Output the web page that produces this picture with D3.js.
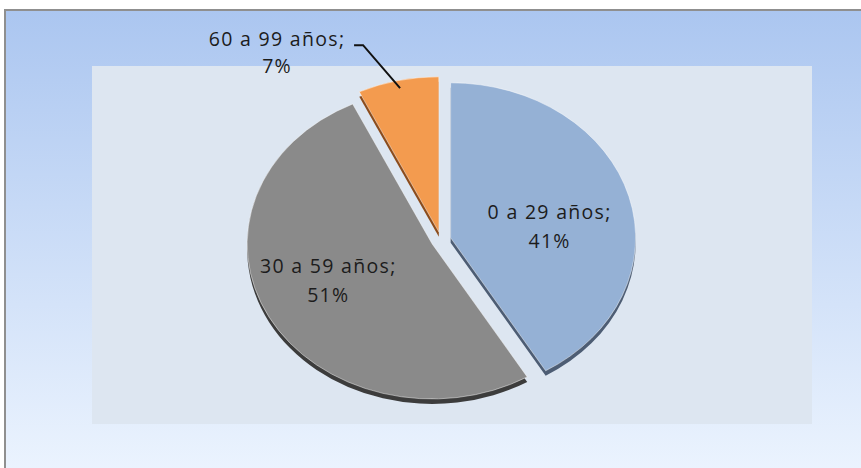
<!DOCTYPE html>
<html>
<head>
<meta charset="utf-8">
<script src="https://cdn.jsdelivr.net/npm/d3@7"></script>
<style>
  html, body { margin: 0; padding: 0; background: #fff; }
  svg { display: block; }
  .pie-label { font-family: "Open Sans", sans-serif; font-size: 19.5px; fill: #1c1c1c; letter-spacing: 1.3px; }
</style>
</head>
<body>
<div id="chart"></div>
<script>
// data
const categories = ["0 a 29 años", "30 a 59 años", "60 a 99 años"];
const values = [41, 51, 7];
const colors = ["#95b1d5", "#8a8a8a", "#f39b4f"];
const sideColors = ["#4d5d74", "#3c3c3c", "#8c4c1c"];

const width = 861, height = 468;
const plot = {x: 92, y: 66, w: 720, h: 358};
const cx = 441, cy = 240;
const rx = 185, ry = 155;
const tilt = ry / rx;
const explode = 10;
const depth = 5;
const lineGap = 29;

const svg = d3.select("#chart").append("svg")
    .attr("width", width)
    .attr("height", height);

const defs = svg.append("defs");
const grad = defs.append("linearGradient")
    .attr("id", "bg")
    .attr("x1", 0).attr("y1", 0).attr("x2", 0).attr("y2", 1);
grad.append("stop").attr("offset", "0%").attr("stop-color", "#abc6f0");
grad.append("stop").attr("offset", "100%").attr("stop-color", "#eff6ff");

svg.append("rect")
    .attr("width", width).attr("height", height)
    .attr("fill", "#ffffff");

// outer chart frame
svg.append("rect")
    .attr("x", 5).attr("y", 10)
    .attr("width", width + 20).attr("height", height + 20)
    .attr("fill", "url(#bg)")
    .attr("stroke", "#8f8f8f")
    .attr("stroke-width", 2);

// plot area
svg.append("rect")
    .attr("x", plot.x).attr("y", plot.y)
    .attr("width", plot.w).attr("height", plot.h)
    .attr("fill", "#dde6f1");

const pie = d3.pie().sort(null).value(d => d)(values);
const arc = d3.arc().innerRadius(0).outerRadius(rx);

const offset = d => {
    const a = (d.startAngle + d.endAngle) / 2;
    return [Math.sin(a) * explode, -Math.cos(a) * explode];
};

// slice thickness (drawn underneath)
const sideG = svg.append("g")
    .attr("transform", `translate(${cx},${cy + depth}) scale(1,${tilt})`);
sideG.selectAll("path")
    .data(pie)
    .join("path")
    .attr("transform", d => `translate(${offset(d)})`)
    .attr("d", arc)
    .attr("fill", (d, i) => sideColors[i]);

// slice tops
const topG = svg.append("g")
    .attr("transform", `translate(${cx},${cy}) scale(1,${tilt})`);
topG.selectAll("path")
    .data(pie)
    .join("path")
    .attr("transform", d => `translate(${offset(d)})`)
    .attr("d", arc)
    .attr("fill", (d, i) => colors[i])
    .attr("stroke", "rgba(255,255,255,0.45)")
    .attr("stroke-width", 1)
    .attr("vector-effect", "non-scaling-stroke");

// screen position of a point on slice d at radius r
const toScreen = (d, r) => {
    const a = (d.startAngle + d.endAngle) / 2;
    const o = offset(d);
    return [cx + o[0] + Math.sin(a) * r, cy + (o[1] - Math.cos(a) * r) * tilt];
};

// inside labels (two large slices)
const labelNudge = [[-8, 15], [-6, -6]];
[0, 1].forEach(i => {
    const d = pie[i];
    const p = toScreen(d, rx * 0.6);
    const x = p[0] + labelNudge[i][0], y = p[1] + labelNudge[i][1];
    const t = svg.append("text")
        .attr("class", "pie-label")
        .attr("text-anchor", "middle")
        .attr("x", x)
        .attr("y", y - lineGap / 2 + 6);
    t.append("tspan").attr("x", x).text(categories[i] + ";");
    t.append("tspan").attr("x", x).attr("dy", lineGap).text(values[i] + "%");
});

// outside label with leader line (small slice)
const small = pie[2];
const tip = toScreen(small, rx * 0.95);
const elbow = [tip[0] - 37, tip[1] - 43];
const lineEnd = [elbow[0] - 9, elbow[1]];
svg.append("path")
    .attr("d", d3.line()([tip, elbow, lineEnd]))
    .attr("fill", "none")
    .attr("stroke", "#111")
    .attr("stroke-width", 2);

const sx = lineEnd[0] - 4 - 73;
const st = svg.append("text")
    .attr("class", "pie-label")
    .attr("text-anchor", "middle")
    .attr("x", sx)
    .attr("y", lineEnd[1] + 1);
st.append("tspan").attr("x", sx).text(categories[2] + ";");
st.append("tspan").attr("x", sx).attr("dy", lineGap - 2).text(values[2] + "%");
</script>
</body>
</html>
